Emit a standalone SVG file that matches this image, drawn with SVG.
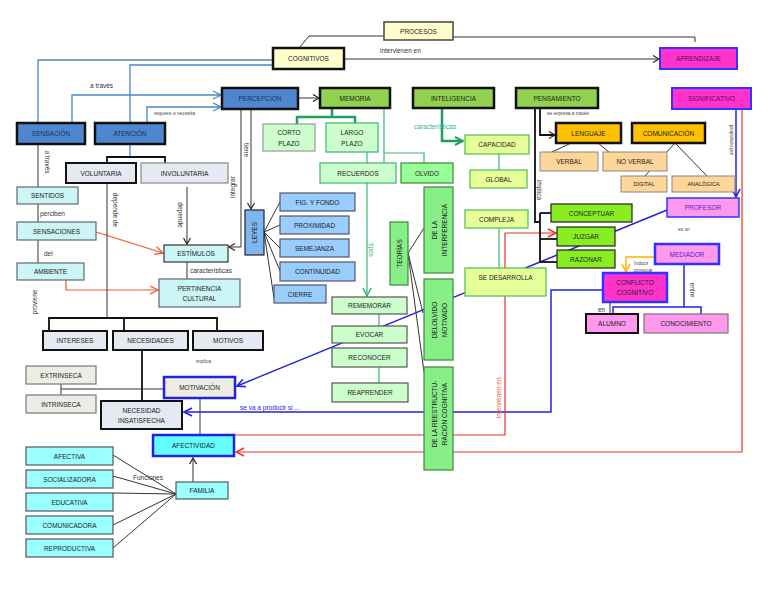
<svg xmlns="http://www.w3.org/2000/svg" width="768" height="594" viewBox="0 0 768 594">
<style>
text{font-family:"Liberation Sans",Arial,sans-serif}
.t{font-size:6.5px;fill:#222;text-anchor:middle;dominant-baseline:central}
.l{font-size:6.5px;fill:#333}
.s{font-size:4.8px;fill:#444}
.bl{fill:#4F86D0;stroke:#111;stroke-width:2.5}
.gr{fill:#92D050;stroke:#111;stroke-width:2.5}
.py{fill:#FFFFCC;stroke:#444;stroke-width:1.5}
.mg{fill:#FF33CC;stroke:#3333FF;stroke-width:2}
.lg{fill:#CCFFCC;stroke:#3CB371;stroke-width:1.2}
.mgn{fill:#88EE88;stroke:#3a8a3a;stroke-width:1.2}
.yg{fill:#E6FF99;stroke:#4CBB4C;stroke-width:1.2}
.or{fill:#FFC000;stroke:#111;stroke-width:2.5}
.lo{fill:#FFD699;stroke:#888;stroke-width:1}
.bg{fill:#88EE22;stroke:#222;stroke-width:1.2}
.pk{fill:#FF99EE;stroke:#3333FF;stroke-width:1.5}
.lb{fill:#99CCFF;stroke:#556;stroke-width:1.2}
.cy{fill:#CCF5F5;stroke:#667;stroke-width:1.2}
.cy2{fill:#99FFFF;stroke:#556;stroke-width:1.2}
.gy{fill:#E4E9F2;stroke:#111;stroke-width:2}
.gy1{fill:#E4E9F2;stroke:#888;stroke-width:1.2}
.bz{fill:#EEEDE5;stroke:#777;stroke-width:1.2}
.k{fill:none;stroke:#333;stroke-width:1}
.kb{fill:none;stroke:#111;stroke-width:1.8}
.blu{fill:none;stroke:#4A86C5;stroke-width:1.3}
.grn{fill:none;stroke:#22A05A;stroke-width:2.5}
.grt{fill:none;stroke:#3CB371;stroke-width:1.2}
.db{fill:none;stroke:#2222DD;stroke-width:1.5}
.rd{fill:none;stroke:#E8302C;stroke-width:1.2}
.ro{fill:none;stroke:#F05A28;stroke-width:1.2}
</style>
<defs>
<marker id="ak" markerWidth="8" markerHeight="8" refX="7" refY="4" orient="auto" markerUnits="userSpaceOnUse"><path d="M1,0.5 L7,4 L1,7.5" fill="none" stroke="#222" stroke-width="1.2"/></marker>
<marker id="ab" markerWidth="10" markerHeight="10" refX="9" refY="5" orient="auto" markerUnits="userSpaceOnUse"><path d="M1,1 L9,5 L1,9" fill="none" stroke="#4A86C5" stroke-width="1.3"/></marker>
<marker id="adb" markerWidth="10" markerHeight="10" refX="9" refY="5" orient="auto" markerUnits="userSpaceOnUse"><path d="M1,1 L9,5 L1,9" fill="none" stroke="#2222DD" stroke-width="1.6"/></marker>
<marker id="ar" markerWidth="10" markerHeight="10" refX="9" refY="5" orient="auto" markerUnits="userSpaceOnUse"><path d="M1,1 L9,5 L1,9" fill="none" stroke="#E8302C" stroke-width="1.5"/></marker>
<marker id="ao" markerWidth="10" markerHeight="10" refX="9" refY="5" orient="auto" markerUnits="userSpaceOnUse"><path d="M1,1 L9,5 L1,9" fill="none" stroke="#F05A28" stroke-width="1.3"/></marker>
<marker id="ay" markerWidth="10" markerHeight="10" refX="9" refY="5" orient="auto" markerUnits="userSpaceOnUse"><path d="M1,1 L9,5 L1,9" fill="none" stroke="#FFB300" stroke-width="1.5"/></marker>
<marker id="ag" markerWidth="10" markerHeight="10" refX="9" refY="5" orient="auto" markerUnits="userSpaceOnUse"><path d="M1,1 L9,5 L1,9" fill="none" stroke="#22A05A" stroke-width="2"/></marker>
<marker id="ag2" markerWidth="10" markerHeight="10" refX="9" refY="5" orient="auto" markerUnits="userSpaceOnUse"><path d="M1,1 L9,5 L1,9" fill="none" stroke="#3CB371" stroke-width="1.5"/></marker>
</defs>
<rect width="768" height="594" fill="#fff"/>

<g id="connectors">
<polyline class="k" stroke="#555" points="384,36 309,36 299,48"/>
<polyline class="k" stroke="#555" points="453,37 695,37 695,42"/>
<line class="k" x1="344" y1="59" x2="659" y2="59" marker-end="url(#ak)"/>
<polyline class="blu" points="38,123 38,60 273,60"/>
<polyline class="blu" points="130,123 130,65 273,65"/>
<line class="blu" x1="130" y1="144" x2="130" y2="157"/>
<polyline class="blu" points="72,123 72,95 221,95" marker-end="url(#ab)"/>
<polyline class="blu" points="147,123 147,107 221,107" marker-end="url(#ab)"/>
<line class="k" x1="298" y1="98" x2="319" y2="98" marker-end="url(#ak)"/>
<polyline class="grn" points="297,124 297,117 355,117 355,123"/>
<line class="grn" x1="332" y1="108" x2="332" y2="117"/>
<line class="grt" x1="367" y1="152" x2="367" y2="163"/>
<line class="grt" x1="384" y1="108" x2="384" y2="163"/>
<polyline class="grt" points="384,153 424,153 424,163"/>
<polyline class="grn" points="442,108 442,141 463,141" marker-end="url(#ag)"/>
<line class="grt" x1="499" y1="154" x2="499" y2="170"/>
<line class="grt" x1="499" y1="228" x2="499" y2="268"/>
<line class="grt" x1="367" y1="183" x2="367" y2="296" marker-end="url(#ag2)"/>
<line class="grt" x1="379" y1="314" x2="379" y2="326"/>
<line class="grt" x1="379" y1="367" x2="379" y2="383"/>
<line class="k" x1="408" y1="253" x2="424" y2="228"/>
<line class="k" x1="408" y1="253" x2="423" y2="313"/>
<line class="k" x1="408" y1="253" x2="424" y2="372"/>
<line class="k" x1="251" y1="109" x2="251" y2="209" marker-end="url(#ak)"/>
<polyline class="k" points="241,109 241,247 229,247" marker-end="url(#ak)"/>
<line class="k" x1="264" y1="232" x2="280" y2="202"/>
<line class="k" x1="264" y1="232" x2="280" y2="225"/>
<line class="k" x1="264" y1="232" x2="280" y2="248"/>
<line class="k" x1="264" y1="232" x2="280" y2="271"/>
<line class="k" x1="264" y1="232" x2="274" y2="298"/>
<polyline class="kb" points="107,163 107,157 165,157 165,163"/>
<line class="k" stroke="#555" x1="38" y1="144" x2="38" y2="187"/>
<line class="k" stroke="#555" x1="38" y1="204" x2="38" y2="222"/>
<line class="k" stroke="#555" x1="38" y1="240" x2="38" y2="263"/>
<line class="ro" x1="96" y1="232" x2="163" y2="253" marker-end="url(#ao)"/>
<polyline class="ro" points="66,280 66,290 158,290" marker-end="url(#ao)"/>
<line class="k" x1="187" y1="187" x2="187" y2="244" marker-end="url(#ak)"/>
<line class="k" x1="187" y1="262" x2="187" y2="279"/>
<line class="k" x1="107" y1="183" x2="107" y2="318"/>
<polyline class="kb" points="49,331 49,318 217,318 217,331"/>
<line class="kb" x1="124" y1="318" x2="124" y2="331"/>
<line class="kb" x1="142" y1="350" x2="142" y2="401"/>
<line class="k" x1="61" y1="384" x2="61" y2="395"/>
<line class="k" x1="61" y1="389" x2="164" y2="389"/>
<line class="k" x1="200" y1="398" x2="200" y2="435"/>
<line class="k" x1="193" y1="482" x2="193" y2="458" marker-end="url(#ak)"/>
<line class="k" x1="176" y1="494" x2="113" y2="455"/>
<line class="k" x1="176" y1="494" x2="113" y2="476"/>
<line class="k" x1="176" y1="494" x2="113" y2="493"/>
<line class="k" x1="176" y1="494" x2="113" y2="525"/>
<line class="k" x1="176" y1="494" x2="113" y2="548"/>
<line class="db" x1="667" y1="210" x2="237" y2="386" marker-end="url(#adb)"/>
<polyline class="db" points="603,290 551,290 551,412 184,412" marker-end="url(#adb)"/>
<polyline class="rd" points="234,435 505,435 505,233 556,233" marker-end="url(#ar)"/>
<polyline class="rd" points="742,109 742,452 236,452" marker-end="url(#ar)"/>
<line class="db" x1="736" y1="109" x2="736" y2="197" marker-end="url(#adb)"/>
<polyline fill="none" stroke="#FFB300" stroke-width="1.5" points="655,257 626,257 626,272" marker-end="url(#ay)"/>
<line class="db" stroke-width="1.2" x1="684" y1="264" x2="684" y2="307"/>
<polyline class="db" stroke-width="1.2" points="613,314 613,307 701,307 701,314"/>
<line class="k" x1="610" y1="302" x2="610" y2="314"/>
<polyline class="kb" points="540,108 540,135 555,135" marker-end="url(#ak)"/>
<polyline class="kb" points="535,108 535,222 540,222"/>
<line class="kb" x1="540" y1="213" x2="540" y2="262"/>
<line class="kb" x1="540" y1="213" x2="551" y2="213"/>
<line class="kb" x1="540" y1="239" x2="557" y2="239"/>
<line class="kb" x1="540" y1="262" x2="557" y2="262"/>
<line class="k" x1="571" y1="143" x2="552" y2="152"/>
<line class="k" x1="598" y1="143" x2="609" y2="152"/>
<line class="k" x1="675" y1="143" x2="645" y2="176"/>
<line class="k" x1="675" y1="143" x2="707" y2="176"/>
<text class="l" x="380" y="53">intervienen en</text>
<text class="l" x="90" y="88">a través</text>
<text class="s" x="154" y="115">requiere o necesita</text>
<text class="l" x="414" y="129" style="fill:#3AB09E">características</text>
<text class="l" transform="translate(369,250) rotate(90)" style="fill:#3CB371" text-anchor="middle">tipos</text>
<text class="l" transform="translate(244,150) rotate(90)" text-anchor="middle">tiene</text>
<text class="l" transform="translate(235,187) rotate(-90)" text-anchor="middle">integrar</text>
<text class="l" transform="translate(45,162) rotate(90)" text-anchor="middle">a través</text>
<text class="l" x="40" y="216">perciben</text>
<text class="l" x="44" y="256">del</text>
<text class="l" transform="translate(37,302) rotate(-90)" text-anchor="middle">proviene</text>
<text class="l" transform="translate(178,215) rotate(90)" text-anchor="middle">depende</text>
<text class="l" x="190" y="273">características</text>
<text class="l" transform="translate(113,210) rotate(90)" text-anchor="middle">depende de</text>
<text class="s" x="196" y="363">implica</text>
<text class="l" x="133" y="480">Funciones</text>
<text class="l" x="240" y="410" style="fill:#2222DD">se va a producir si ...</text>
<text class="l" transform="translate(501,398) rotate(-90)" text-anchor="middle" style="fill:#E8603C">Intervienen en</text>
<text class="s" transform="translate(730,140) rotate(90)" text-anchor="middle">propiciado por</text>
<text class="s" x="634" y="265">Inducir</text>
<text class="s" x="634" y="272">provocar</text>
<text class="l" transform="translate(690,290) rotate(90)" text-anchor="middle">entre</text>
<text class="l" x="598" y="312">en</text>
<text class="s" x="547" y="115">se expresa a través</text>
<text class="l" transform="translate(537,190) rotate(90)" text-anchor="middle">implica</text>
<text class="s" x="678" y="231">es un</text>
</g>

<g id="procesos"><rect class="py" x="384" y="22" width="69" height="18"/><text class="t" x="418.5" y="31">PROCESOS</text></g>
<g id="cognitivos"><rect class="py" style="stroke:#111;stroke-width:2.5" x="273" y="48" width="71" height="21"/><text class="t" x="308.5" y="58.5">COGNITIVOS</text></g>
<g id="aprendizaje"><rect class="mg" x="660" y="48" width="77" height="21"/><text class="t" x="698.5" y="58.5" style="fill:#5a0a5a">APRENDIZAJE</text></g>
<g id="sensacion"><rect class="bl" x="17" y="123" width="68" height="21"/><text class="t" x="51" y="133.5" style="fill:#1F2F5F">SENSACIÓN</text></g>
<g id="atencion"><rect class="bl" x="95" y="123" width="70" height="21"/><text class="t" x="130" y="133.5" style="fill:#1F2F5F">ATENCIÓN</text></g>
<g id="percepcion"><rect class="bl" x="222" y="88" width="76" height="21"/><text class="t" x="260" y="98.5" style="fill:#1F2F5F">PERCEPCIÓN</text></g>
<g id="memoria"><rect class="gr" x="320" y="88" width="70" height="20"/><text class="t" x="355" y="98">MEMORIA</text></g>
<g id="inteligencia"><rect class="gr" x="413" y="88" width="81" height="20"/><text class="t" x="453.5" y="98">INTELIGENCIA</text></g>
<g id="pensamiento"><rect class="gr" x="516" y="88" width="82" height="20"/><text class="t" x="557" y="98">PENSAMIENTO</text></g>
<g id="significativo"><rect class="mg" x="672" y="88" width="79" height="21"/><text class="t" x="711.5" y="98.5" style="fill:#5a0a5a">SIGNIFICATIVO</text></g>
<g id="corto-plazo"><rect class="lg" style="stroke:#999" x="263" y="124" width="52" height="27"/><text class="t" x="289" y="132">CORTO</text><text class="t" x="289" y="143">PLAZO</text></g>
<g id="largo-plazo"><rect class="lg" x="326" y="123" width="52" height="29"/><text class="t" x="352" y="132">LARGO</text><text class="t" x="352" y="143">PLAZO</text></g>
<g id="recuerdos"><rect class="lg" x="320" y="163" width="76" height="20"/><text class="t" x="358" y="173">RECUERDOS</text></g>
<g id="olvido"><rect class="mgn" style="fill:#99FF99" x="401" y="163" width="52" height="20"/><text class="t" x="427" y="173">OLVIDO</text></g>
<g id="capacidad"><rect class="yg" x="465" y="135" width="64" height="19"/><text class="t" x="497" y="144.5">CAPACIDAD</text></g>
<g id="global"><rect class="yg" x="470" y="170" width="57" height="18"/><text class="t" x="498.5" y="179">GLOBAL</text></g>
<g id="compleja"><rect class="yg" x="465" y="210" width="63" height="18"/><text class="t" x="496.5" y="219">COMPLEJA</text></g>
<g id="se-desarrolla"><rect class="yg" x="465" y="268" width="81" height="28"/><text class="t" x="505.5" y="277">SE DESARROLLA</text></g>
<g id="lenguaje"><rect class="or" x="556" y="123" width="65" height="20"/><text class="t" x="588.5" y="133">LENGUAJE</text></g>
<g id="comunicacion"><rect class="or" x="632" y="123" width="73" height="20"/><text class="t" x="668.5" y="133">COMUNICACIÓN</text></g>
<g id="verbal"><rect class="lo" x="540" y="152" width="58" height="19"/><text class="t" x="569" y="161.5">VERBAL</text></g>
<g id="no-verbal"><rect class="lo" x="603" y="152" width="64" height="19"/><text class="t" x="635" y="161.5">NO VERBAL</text></g>
<g id="digital"><rect class="lo" x="621" y="176" width="46" height="16"/><text class="t" x="644" y="184" style="font-size:5.5px">DIGITAL</text></g>
<g id="analogica"><rect class="lo" x="672" y="176" width="63" height="16"/><text class="t" x="703.5" y="184" style="font-size:5.5px">ANALÓGICA</text></g>
<g id="profesor"><rect class="pk" x="667" y="198" width="72" height="19"/><text class="t" x="703" y="207" style="fill:#5522CC">PROFESOR</text></g>
<g id="conceptuar"><rect class="bg" x="551" y="204" width="81" height="18"/><text class="t" x="591.5" y="213">CONCEPTUAR</text></g>
<g id="juzgar"><rect class="bg" x="557" y="227" width="58" height="19"/><text class="t" x="586" y="236">JUZGAR</text></g>
<g id="razonar"><rect class="bg" x="557" y="250" width="58" height="18"/><text class="t" x="586" y="259">RAZONAR</text></g>
<g id="mediador"><rect class="pk" style="stroke-width:2.5" x="655" y="244" width="64" height="20"/><text class="t" x="687" y="254" style="fill:#5522CC">MEDIADOR</text></g>
<g id="conflicto-cognitivo"><rect class="mg" style="stroke-width:2.5" x="603" y="273" width="64" height="29"/><text class="t" x="635" y="282">CONFLICTO</text><text class="t" x="635" y="292.5">COGNITIVO</text></g>
<g id="alumno"><rect class="pk" style="stroke:#111;stroke-width:2" x="586" y="314" width="52" height="19"/><text class="t" x="612" y="323.5">ALUMNO</text></g>
<g id="conocimiento"><rect class="pk" style="stroke:#777;stroke-width:1.2" x="644" y="314" width="84" height="19"/><text class="t" x="686" y="323.5">CONOCIMIENTO</text></g>
<g id="voluntaria"><rect class="gy" x="66" y="163" width="70" height="20"/><text class="t" x="101" y="173">VOLUNTARIA</text></g>
<g id="involuntaria"><rect class="gy1" x="141" y="163" width="87" height="20"/><text class="t" x="184.5" y="173">INVOLUNTARIA</text></g>
<g id="sentidos"><rect class="cy" x="17" y="187" width="61" height="17"/><text class="t" x="47.5" y="195.5">SENTIDOS</text></g>
<g id="sensaciones"><rect class="cy" x="17" y="222" width="79" height="18"/><text class="t" x="56.5" y="231">SENSACIONES</text></g>
<g id="ambiente"><rect class="cy" x="17" y="263" width="67" height="17"/><text class="t" x="50.5" y="271.5">AMBIENTE</text></g>
<g id="estimulos"><rect class="cy" style="stroke:#333" x="164" y="245" width="64" height="17"/><text class="t" x="196" y="253.5">ESTÍMULOS</text></g>
<g id="pertinencia-cultural"><rect class="cy" x="159" y="279" width="81" height="28"/><text class="t" x="199.5" y="288">PERTINENCIA</text><text class="t" x="199.5" y="298">CULTURAL</text></g>
<g id="leyes"><rect class="lb" style="fill:#7EB6F0;stroke:#223" x="245" y="210" width="19" height="45"/><text class="t" transform="translate(254.5,232.5) rotate(-90)">LEYES</text></g>
<g id="fig-y-fondo"><rect class="lb" x="280" y="193" width="75" height="18"/><text class="t" x="317.5" y="202">FIG. Y FONDO</text></g>
<g id="proximidad"><rect class="lb" x="280" y="216" width="69" height="18"/><text class="t" x="314.5" y="225">PROXIMIDAD</text></g>
<g id="semejanza"><rect class="lb" x="280" y="239" width="69" height="18"/><text class="t" x="314.5" y="248">SEMEJANZA</text></g>
<g id="continuidad"><rect class="lb" x="280" y="262" width="75" height="19"/><text class="t" x="317.5" y="271.5">CONTINUIDAD</text></g>
<g id="cierre"><rect class="lb" x="274" y="285" width="52" height="18"/><text class="t" x="300" y="294">CIERRE</text></g>
<g id="teorias"><rect class="mgn" x="390" y="222" width="18" height="63"/><text class="t" transform="translate(399,253.5) rotate(-90)">TEORÍAS</text></g>
<g id="de-la-interferencia"><rect class="mgn" x="424" y="187" width="29" height="86"/><text class="t" transform="translate(434,230) rotate(-90)">DE LA</text><text class="t" transform="translate(444,230) rotate(-90)">INTERFERENCIA</text></g>
<g id="del-olvido-motivado"><rect class="mgn" x="424" y="279" width="29" height="81"/><text class="t" transform="translate(434,320) rotate(-90)">DELOLVIDO</text><text class="t" transform="translate(444,320) rotate(-90)">MOTIVADO</text></g>
<g id="de-la-reestructuracion"><rect class="mgn" x="424" y="367" width="29" height="103"/><text class="t" transform="translate(434,414) rotate(-90)">DE LA REESTRUCTU-</text><text class="t" transform="translate(444,414) rotate(-90)">RACIÓN COGNITIVA</text></g>
<g id="rememorar"><rect class="lg" style="stroke:#555" x="332" y="297" width="75" height="17"/><text class="t" x="369.5" y="305.5">REMEMORAR</text></g>
<g id="evocar"><rect class="lg" style="stroke:#555" x="332" y="326" width="75" height="17"/><text class="t" x="369.5" y="334.5">EVOCAR</text></g>
<g id="reconocer"><rect class="lg" style="stroke:#555" x="332" y="348" width="75" height="19"/><text class="t" x="369.5" y="357.5">RECONOCER</text></g>
<g id="reaprender"><rect class="lg" style="stroke:#555" x="332" y="383" width="76" height="19"/><text class="t" x="370" y="392.5">REAPRENDER</text></g>
<g id="intereses"><rect class="gy" x="43" y="331" width="64" height="19"/><text class="t" x="75" y="340.5">INTERESES</text></g>
<g id="necesidades"><rect class="gy" x="113" y="331" width="75" height="19"/><text class="t" x="150.5" y="340.5">NECESIDADES</text></g>
<g id="motivos"><rect class="gy" x="193" y="331" width="70" height="19"/><text class="t" x="228" y="340.5">MOTIVOS</text></g>
<g id="extrinseca"><rect class="bz" x="26" y="366" width="70" height="18"/><text class="t" x="61" y="375">EXTRINSECA</text></g>
<g id="intrinseca"><rect class="bz" x="26" y="395" width="70" height="18"/><text class="t" x="61" y="404">INTRINSECA</text></g>
<g id="motivacion"><rect class="bz" style="stroke:#2222DD;stroke-width:2.5" x="164" y="377" width="71" height="21"/><text class="t" x="199.5" y="387.5">MOTIVACIÓN</text></g>
<g id="necesidad-insatisfecha"><rect class="gy" x="101" y="401" width="81" height="28"/><text class="t" x="141.5" y="410">NECESIDAD</text><text class="t" x="141.5" y="420">INSATISFECHA</text></g>
<g id="afectividad"><rect class="cy2" style="fill:#66FFFF;stroke:#2222DD;stroke-width:2.5" x="153" y="435" width="81" height="21"/><text class="t" x="193.5" y="445.5">AFECTIVIDAD</text></g>
<g id="familia"><rect class="cy2" x="176" y="482" width="52" height="17"/><text class="t" x="202" y="490.5">FAMILIA</text></g>
<g id="afectiva"><rect class="cy2" x="26" y="447" width="87" height="18"/><text class="t" x="69.5" y="456">AFECTIVA</text></g>
<g id="socializadora"><rect class="cy2" x="26" y="470" width="87" height="18"/><text class="t" x="69.5" y="479">SOCIALIZADORA</text></g>
<g id="educativa"><rect class="cy2" x="26" y="493" width="87" height="18"/><text class="t" x="69.5" y="502">EDUCATIVA</text></g>
<g id="comunicadora"><rect class="cy2" x="26" y="516" width="87" height="18"/><text class="t" x="69.5" y="525">COMUNICADORA</text></g>
<g id="reproductiva"><rect class="cy2" x="26" y="539" width="87" height="18"/><text class="t" x="69.5" y="548">REPRODUCTIVA</text></g>
</svg>
